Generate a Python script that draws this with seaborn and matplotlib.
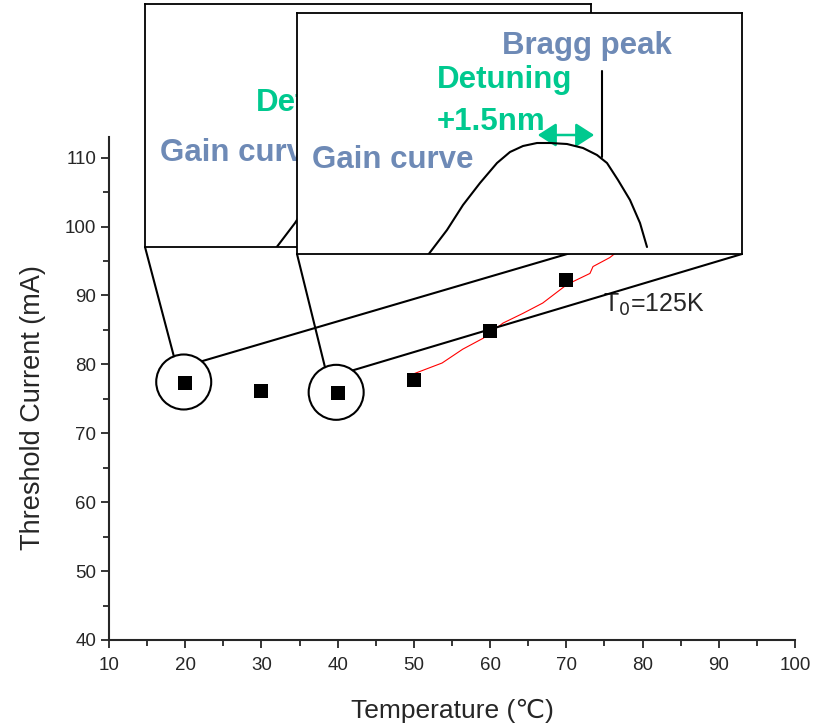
import numpy as np
import pandas as pd
import matplotlib
matplotlib.use("Agg")
import matplotlib.pyplot as plt
import seaborn as sns
from matplotlib.patches import Circle, FancyArrowPatch
from matplotlib.lines import Line2D
from matplotlib.transforms import IdentityTransform

# ---------------- data ----------------
temperature = [20, 30, 40, 50, 60, 70]
threshold_current = [77.3, 76.2, 75.8, 77.7, 84.8, 92.2]

fit_temperature = [49.9, 53.7, 56.4, 59.1, 61.7, 64.3, 66.9, 70.1, 73.1, 73.5, 75.7, 78.0]
fit_current = [78.6, 80.2, 82.2, 83.8, 86.0, 87.4, 88.9, 91.6, 93.2, 94.2, 95.5, 97.5]

x_ticks = [10, 20, 30, 40, 50, 60, 70, 80, 90, 100]
y_ticks = [40, 50, 60, 70, 80, 90, 100, 110]

# inset spectrum (schematic gain curve, arbitrary units)
gain_wavelength = [131, 150, 166, 183, 200, 213, 226, 240, 253, 270, 286, 300, 310, 321, 333, 343, 350]
gain_value = [-1, 24, 49, 71, 91, 102, 108, 111, 111, 110, 106, 99, 91, 74, 54, 31, 7]
bragg_wavelength = 305

t0_label = "T$_0$=125K"
t0_pos = (74.8, 88.7)
circled_points = [20, 40]

# ---------------- style ----------------
sns.set_style("ticks")
plt.rcParams["font.family"] = ["Liberation Sans", "DejaVu Sans"]

W, H = 825, 727
fig = plt.figure(figsize=(W / 100, H / 100), dpi=100)

def fx(px):
    return px / W

def fy(py):
    return 1 - py / H

ax = fig.add_axes([fx(109), fy(640), fx(795) - fx(109), fy(137) - fy(640)])
df = pd.DataFrame({"T": temperature, "I": threshold_current})
fit_df = pd.DataFrame({"T": fit_temperature, "I": fit_current})

sns.lineplot(data=fit_df, x="T", y="I", ax=ax, color="red", lw=0.8,
             sort=False, estimator=None, zorder=2)
sns.scatterplot(data=df, x="T", y="I", ax=ax, marker="s", color="black",
                s=115, edgecolor="black", linewidth=0, zorder=3)

ax.set_xlim(10, 100)
ax.set_ylim(40, 113)
ax.set_xticks(x_ticks)
ax.set_yticks(y_ticks)
ax.set_xticks(np.arange(15, 100, 10), minor=True)
ax.set_yticks(np.arange(45, 113, 10), minor=True)
ax.tick_params(which="major", direction="out", length=6, width=1.3, labelsize=13.5, pad=3)
ax.tick_params(axis="x", which="major", pad=6)
ax.tick_params(which="minor", direction="out", length=4, width=1.3)
for s in ["left", "bottom"]:
    ax.spines[s].set_linewidth(1.5)
sns.despine(ax=ax)
ax.set_xlabel("Temperature (\u2103)", fontsize=19)
ax.set_ylabel("Threshold Current (mA)", fontsize=19.5)
ax.xaxis.set_label_coords(0.5, -0.117)
ax.yaxis.set_label_coords(-0.092, 0.463)

ax.text(t0_pos[0], t0_pos[1], t0_label, fontsize=18, ha="left", va="center")

# ---------------- insets ----------------
green = "#00C98F"
blue = "#6E8AB6"

def make_inset(left, top, width, height, z, texts):
    iax = fig.add_axes([fx(left), fy(top + height), width / W, height / H])
    iax.set_zorder(z)
    iax.set_facecolor("white")
    iax.set_xlim(0, width)
    iax.set_ylim(0, height)
    iax.set_xticks([])
    iax.set_yticks([])
    for s in iax.spines.values():
        s.set_visible(True)
        s.set_linewidth(1.3)
        s.set_color("black")
    iax.plot(gain_wavelength, gain_value, color="black", lw=1.5, clip_on=True,
             solid_joinstyle="round")
    for (tx, ty, txt, col) in texts:
        iax.text(tx, ty, txt, color=col, fontsize=22.5, fontweight="bold",
                 ha="left", va="center", clip_on=True)
    return iax

in1 = make_inset(145, 4, 446, 243, 5,
                 [(15, 94, "Gain curve", blue), (111, 144, "Detuning", green)])
in2 = make_inset(297, 13, 445, 241, 6,
                 [(15, 94, "Gain curve", blue), (140, 174, "Detuning", green),
                  (140, 132, "+1.5nm", green), (205, 208, "Bragg peak", blue)])
in2.plot([bragg_wavelength, bragg_wavelength], [97, 183], color="black", lw=1.5)
arr = FancyArrowPatch((238, 119), (300, 119), arrowstyle="<|-|>,head_length=7,head_width=4.5",
                      color=green, lw=1.8, mutation_scale=1.6)
in2.add_patch(arr)

# ---------------- circles & connectors ----------------
fig.canvas.draw()
r = 27.5
boxes = [((145, 247), (591, 247)), ((297, 254), (742, 254))]
angles = [(111, 49), (114, 53)]
for tval, (bl, br), (aA, aB) in zip(circled_points, boxes, angles):
    yval = threshold_current[temperature.index(tval)]
    cx, cy = ax.transData.transform((tval, yval))
    cx -= 1.5
    cy += 1
    fig.patches.append(Circle((cx, cy), r, transform=IdentityTransform(),
                              fill=False, ec="black", lw=1.5, zorder=3))
    for ang, corner in ((aA, bl), (aB, br)):
        sx = cx + r * np.cos(np.radians(ang))
        sy = cy + r * np.sin(np.radians(ang))
        fig.lines.append(Line2D([sx, corner[0]], [sy, H - corner[1]],
                                transform=IdentityTransform(), color="black",
                                lw=1.5, zorder=3))

fig.savefig("out.png", dpi=100)
